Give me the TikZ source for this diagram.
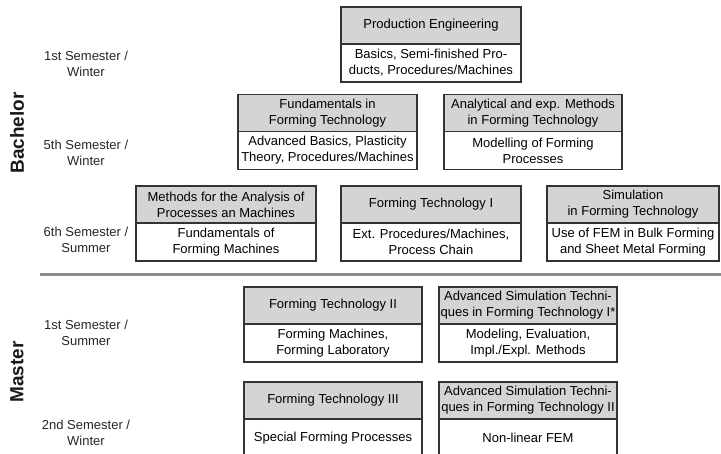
\documentclass[tikz,border=0pt]{standalone}
\usepackage{fontspec}
\setmainfont{Liberation Sans}
\usetikzlibrary{positioning}

\newcommand{\coursefont}{\fontsize{13}{16}\selectfont}

\begin{document}
\begin{tikzpicture}
	[%
	x=1pt, y=-1pt,%
	head/.style  ={rectangle,	draw=black!80,	fill=black!17,	line width=1.2pt,	inner sep=0.5pt,	outer sep=0pt,	minimum height=37pt,	align=center,	font=\coursefont},%
	body/.style  ={rectangle,	draw=black!80,	fill=white,		line width=1.2pt,	inner sep=0.5pt,	outer sep=0pt,	minimum height=38pt,	align=center,	font=\coursefont},%
	term/.style  ={align=center,	font=\coursefont,	text=black!85},%
	degree/.style={rotate=90,	font=\fontsize{19}{22}\selectfont\bfseries,	text=black!90},%
	]

	\useasboundingbox (0,0) rectangle (721,453);
	\clip (0,0) rectangle (721,453);

	% semesters
	\node (term1) at (86, 64) [term] {1st Semester /\\Winter};
	\node (term5) at (86,153) [term] {5th Semester /\\Winter};
	\node (term6) at (86,240) [term] {6th Semester /\\Summer};
	\node (termM1) at (86,333) [term] {1st Semester /\\Summer};
	\node (termM2) at (86,433) [term] {2nd Semester /\\Winter};

	\node (bachelor) at (17,133) [degree] {Bachelor};
	\node (master)   at (17,372) [degree] {Master};

	% bachelor / master separator
	\coordinate (sepL) at (40,274);
	\coordinate (sepR) at (721,274);
	\draw [line width=3pt, black!45] (sepL) -- (sepR);

	% bachelor courses
	\node (prodH) at (431,25.5) [head, minimum width=180pt] {Production Engineering};
	\node (prodB) [body, minimum width=180pt, below=0pt of prodH] {Basics, Semi-finished Pro-\\ducts, Procedures/Machines};

	\node (fundH) at (327.5,113) [head, minimum width=179pt] {Fundamentals in\\Forming Technology};
	\node (fundB) [body, minimum width=179pt, below=0pt of fundH] {Advanced Basics, Plasticity\\Theory, Procedures/Machines};
	\node (anaH) at (533,113) [head, minimum width=178pt] {Analytical and exp. Methods\\in Forming Technology};
	\node (anaB) [body, minimum width=178pt, below=0pt of anaH] {Modelling of Forming\\Processes};

	\node (methH) at (226,204.5) [head, minimum width=180pt] {Methods for the Analysis of\\Processes an Machines};
	\node (methB) [body, minimum width=180pt, below=0pt of methH] {Fundamentals of\\Forming Machines};
	\node (ft1H) at (431,204.5) [head, minimum width=180pt] {Forming Technology I};
	\node (ft1B) [body, minimum width=180pt, below=0pt of ft1H] {Ext. Procedures/Machines,\\Process Chain};
	\node (simH) at (633,204.5) [head, minimum width=172pt] {Simulation\\in Forming Technology};
	\node (simB) [body, minimum width=172pt, below=0pt of simH] {Use of FEM in Bulk Forming\\and Sheet Metal Forming};

	% master courses
	\node (ft2H) at (333,305.5) [head, minimum width=178pt] {Forming Technology II};
	\node (ft2B) [body, minimum width=178pt, below=0pt of ft2H] {Forming Machines,\\Forming Laboratory};
	\node (ast1H) at (528,305.5) [head, minimum width=178pt] {Advanced Simulation Techni-\\ques in Forming Technology I*};
	\node (ast1B) [body, minimum width=178pt, below=0pt of ast1H] {Modeling, Evaluation,\\Impl./Expl. Methods};

	\node (ft3H) at (333,400.5) [head, minimum width=178pt] {Forming Technology III};
	\node (ft3B) [body, minimum width=178pt, below=0pt of ft3H] {Special Forming Processes};
	\node (ast2H) at (528,400.5) [head, minimum width=178pt] {Advanced Simulation Techni-\\ques in Forming Technology II};
	\node (ast2B) [body, minimum width=178pt, below=0pt of ast2H] {Non-linear FEM};

\end{tikzpicture}
\end{document}
